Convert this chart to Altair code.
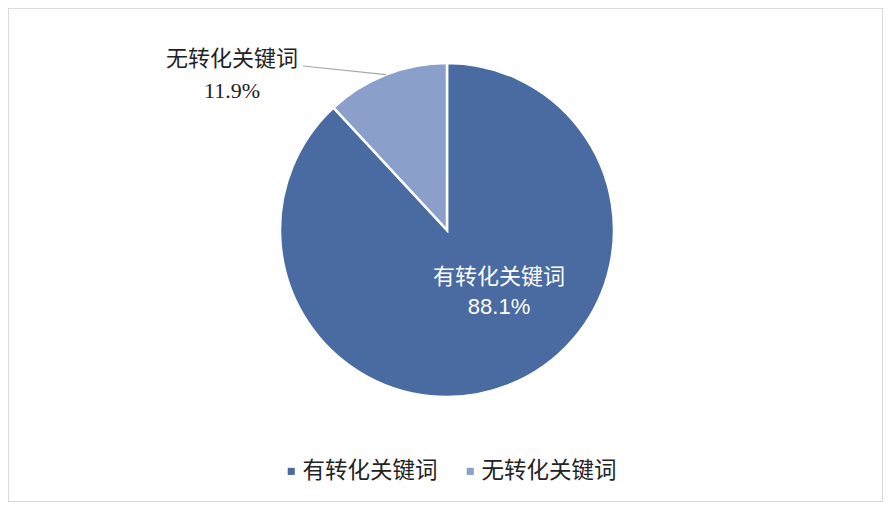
import altair as alt
import pandas as pd
import math

categories = ["有转化关键词", "无转化关键词"]
shares = [88.1, 11.9]
pct_labels = ["88.1%", "11.9%"]
colors = ["#4a6aa2", "#8a9fc9"]

W, H = 875, 494
CX, CY, R = 439, 222, 167

df = pd.DataFrame({
    "cat": categories,
    "share": shares,
    "order": list(range(len(categories))),
    "label": [c + "\n" + p for c, p in zip(categories, pct_labels)],
})

# angle of the small slice's middle (for leader line end)
total = sum(shares)
start_small = shares[0] / total * 2 * math.pi
mid_small = start_small + shares[1] / total * math.pi
lx2 = CX + R * math.sin(mid_small)
ly2 = CY - R * math.cos(mid_small)

serif = "Liberation Serif, Noto Sans CJK SC"
sans = "Liberation Sans, Noto Sans CJK SC"

base = alt.Chart(df)

pie = base.mark_arc(outerRadius=R, stroke="white", strokeWidth=2.5).encode(
    theta=alt.Theta("share:Q", stack=True),
    order=alt.Order("order:Q"),
    color=alt.Color(
        "cat:N",
        scale=alt.Scale(domain=categories, range=colors),
        sort=categories,
        legend=alt.Legend(
            title=None, orient="none", direction="horizontal",
            legendX=272, legendY=452,
            symbolType="square", symbolSize=50, symbolStrokeWidth=0,
            labelFontSize=22.5, labelFont=serif, labelColor="#222222",
            labelOffset=0, columnPadding=21, padding=0,
        ),
    ),
    x=alt.value(CX),
    y=alt.value(CY),
)

inner = base.transform_filter(alt.datum.order == 0).mark_text(
    align="center", baseline="middle", fontSize=22, font=sans,
    color="white", lineBreak="\n", lineHeight=30,
).encode(text="label:N", x=alt.value(491), y=alt.value(269))

outer = base.transform_filter(alt.datum.order == 1).mark_text(
    align="center", baseline="middle", fontSize=22, font=serif,
    color="#222222", lineBreak="\n", lineHeight=32,
).encode(text="label:N", x=alt.value(224), y=alt.value(51))

leader = base.transform_filter(alt.datum.order == 1).mark_rule(
    color="#a6a6a6", strokeWidth=1.2
).encode(x=alt.value(295), y=alt.value(58), x2=alt.value(lx2), y2=alt.value(ly2))

chart = alt.layer(pie, leader, inner, outer).properties(
    width=W, height=H, padding=0,
    autosize=alt.AutoSizeParams(type="none"),
).configure_view(stroke="#cfcfcf", strokeWidth=1.5)

chart.save("out.html", embed_options={"renderer": "svg", "actions": False})
